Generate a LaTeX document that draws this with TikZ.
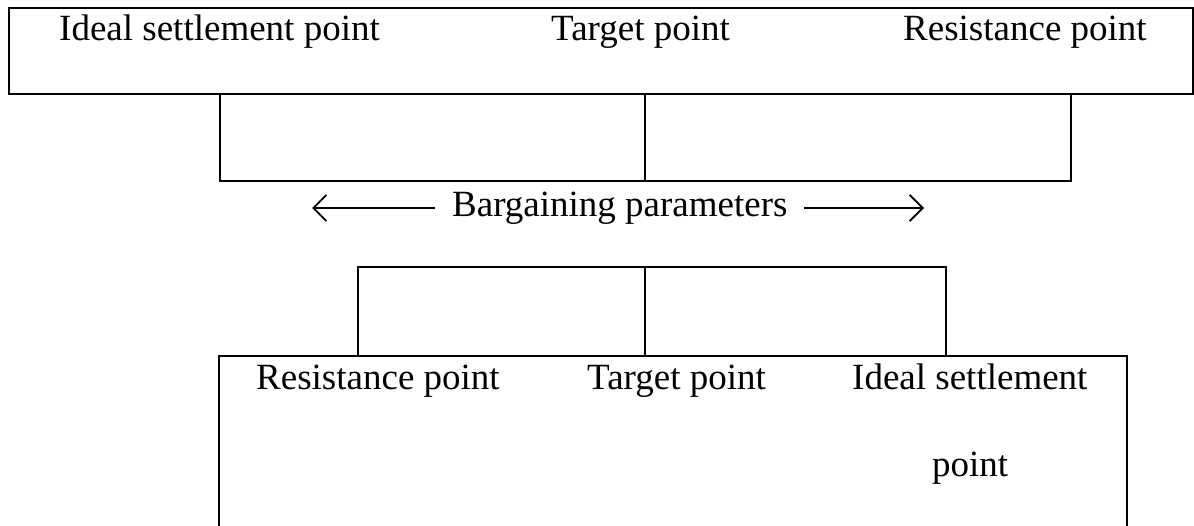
\documentclass[tikz,border=0pt]{standalone}
\usepackage{fontspec}
\setmainfont{Liberation Serif}
\usetikzlibrary{arrows.meta}
\begin{document}
\begin{tikzpicture}[x=1pt,y=-1pt,
  boxline/.style={line width=2.4pt},
  bracketline/.style={line width=2pt},
  lbl/.style={inner sep=0pt,anchor=base west,font=\fontsize{37}{44}\selectfont},
  arr/.style={line width=1.8pt,-{Straight Barb[length=13pt,width=26pt,line width=1.8pt]}}]
\useasboundingbox (0,0) rectangle (1194,526);
% top box
\node[draw,boxline,minimum width=1184pt,minimum height=86pt,inner sep=0pt,anchor=north west] (topbox) at (8,7) {};
\node[lbl] (t1) at (59,41) {Ideal settlement point};
\node[lbl] (t2) at (551,41) {Target point};
\node[lbl] (t3) at (903,41) {Resistance point};
% top bracket
\coordinate (ta) at (220,93);
\coordinate (tb) at (645,93);
\coordinate (tc) at (1071,93);
\coordinate (tal) at (220,181);
\coordinate (tbl) at (645,181);
\coordinate (tcl) at (1071,181);
\draw[bracketline] (ta) -- (tal) -- (tcl) -- (tc);
\draw[bracketline] (tb) -- (tbl);
% middle label and arrows
\node[lbl] (mid) at (452,217) {Bargaining parameters};
\coordinate (la) at (312,208);
\coordinate (ra) at (924,208);
\draw[arr] (mid.west |- la) ++(-17,0) -- (la);
\draw[arr] (mid.east |- ra) ++(16,0) -- (ra);
% bottom box
\coordinate (bbl) at (219,527);
\coordinate (bbtl) at (219,356);
\coordinate (bbtr) at (1127,356);
\coordinate (bbr) at (1127,527);
\draw[boxline] (bbl) -- (bbtl) -- (bbtr) -- (bbr);
% bottom bracket
\coordinate (ba) at (358,267);
\coordinate (bb) at (645,267);
\coordinate (bc) at (946,267);
\draw[bracketline] (358,356) -- (ba) -- (bc) -- (946,356);
\draw[bracketline] (bb) -- (645,356);
\node[lbl] (b1) at (256,390) {Resistance point};
\node[lbl] (b2) at (587,390) {Target point};
\node[lbl] (b3) at (852,390) {Ideal settlement};
\node[lbl] (b4) at (932,476) {point};
\end{tikzpicture}
\end{document}
